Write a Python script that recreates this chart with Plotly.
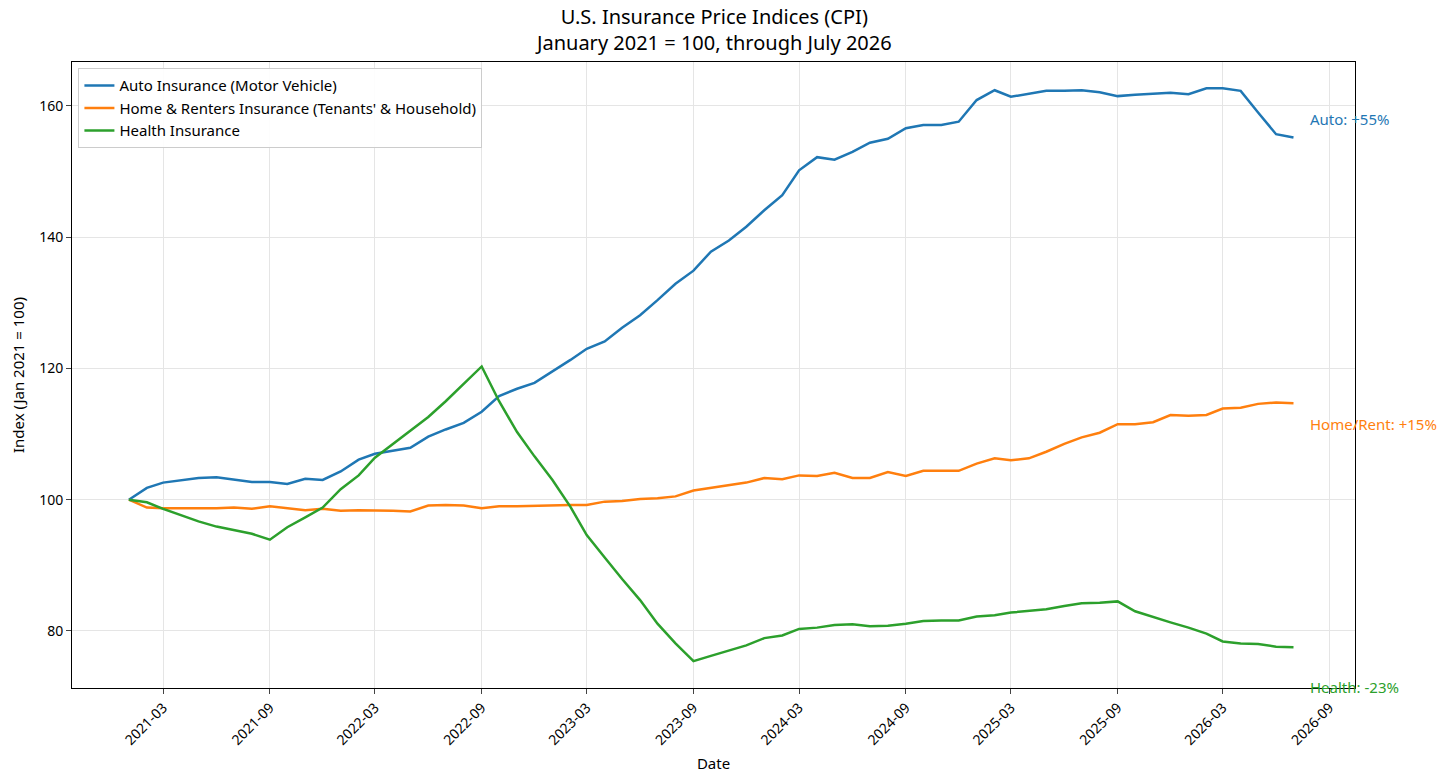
import pandas as pd
import plotly.graph_objects as go

dates = pd.date_range("2021-01-01", periods=67, freq="MS")
auto = [100,101.8,102.6,103,103.3,103.4,103,102.7,102.7,102.4,103.2,103.0,104.3,106.1,107,107.5,107.9,109.6,110.7,111.7,113.4,115.8,116.9,117.8,119.5,121.3,123,124.1,126.2,128.1,130.4,132.9,134.9,137.8,139.5,141.6,144.1,146.4,150.2,152.2,151.8,153,154.4,155,156.6,157.1,157.1,157.6,160.9,162.4,161.4,161.8,162.3,162.3,162.4,162.1,161.5,161.7,161.8,162,161.8,162.7,162.7,162.3,159,155.7,155.2]
home = [100,98.8,98.7,98.7,98.6,98.7,98.8,98.6,99.0,98.7,98.4,98.6,98.3,98.4,98.3,98.3,98.2,99.1,99.2,99.1,98.7,99.0,99.0,99.1,99.2,99.2,99.2,99.7,99.8,100.1,100.2,100.5,101.4,101.8,102.3,102.6,103.3,103.1,103.7,103.6,104.1,103.3,103.3,104.2,103.6,104.4,104.4,104.4,105.5,106.3,106.0,106.3,107.3,108.5,109.5,110.2,111.5,111.5,111.8,112.9,112.8,112.9,113.9,114.0,114.6,114.8,114.7]
health = [100,99.6,98.6,97.6,96.7,95.9,95.4,94.8,93.9,95.8,97.3,98.8,101.6,103.7,106.4,108.5,110.5,112.6,115.0,117.6,120.3,115.0,110.3,106.6,103.0,98.9,94.6,91.2,87.9,84.7,81.1,78.1,75.4,76.2,77.0,77.8,78.9,79.3,80.3,80.5,80.9,81.0,80.7,80.8,81.1,81.5,81.6,81.6,82.2,82.4,82.8,83.1,83.3,83.8,84.2,84.3,84.5,83.0,82.1,81.3,80.5,79.6,78.4,78.1,78.0,77.6,77.5]

names = ["Auto Insurance (Motor Vehicle)", "Home & Renters Insurance (Tenants' & Household)", "Health Insurance"]
colors = ["#1f77b4", "#ff7f0e", "#2ca02c"]
labels = ["Auto: +55%", "Home/Rent: +15%", "Health: -23%"]
label_y = [158, 111.5, 71.5]
tickvals = pd.date_range("2021-03-01", "2026-09-01", freq="6MS")
title = "U.S. Insurance Price Indices (CPI)<br>January 2021 = 100, through July 2026"

fig = go.Figure()
for n, c, s in zip(names, colors, [auto, home, health]):
    fig.add_trace(go.Scatter(x=dates, y=s, name=n, mode="lines", line=dict(color=c, width=2.5)))
for t, c, y in zip(labels, colors, label_y):
    fig.add_annotation(x=pd.Timestamp("2026-07-26"), y=y, text=t, showarrow=False, xanchor="left",
                       font=dict(color=c, size=15))
fig.add_annotation(x=0.5, y=1, xref="paper", yref="paper", yanchor="bottom", yshift=4, text=title,
                   showarrow=False, font=dict(size=20))

fig.update_layout(
    width=1456, height=783, paper_bgcolor="white", plot_bgcolor="white",
    font=dict(family="Noto Sans", size=14, color="black"),
    margin=dict(l=64, r=109, t=54, b=103),
    legend=dict(x=0.005, y=0.99, xanchor="left", yanchor="top", bordercolor="#ccc", borderwidth=1,
                bgcolor="rgba(255,255,255,0.9)", font=dict(size=15)),
    showlegend=True,
)
fig.update_xaxes(range=[pd.Timestamp("2020-09-25"), pd.Timestamp("2026-10-15")], automargin=False,
                 tickvals=tickvals, ticktext=[d.strftime("%Y-%m") for d in tickvals], tickangle=-45,
                 showgrid=True, gridcolor="#e5e5e5", showline=True, linecolor="black", mirror=True,
                 ticks="outside", title=dict(text="Date", font=dict(size=15), standoff=10))
fig.update_yaxes(range=[71.3, 166.7], tickvals=[80,100,120,140,160], showgrid=True, gridcolor="#e5e5e5",
                 showline=True, linecolor="black", mirror=True, ticks="outside", zeroline=False, automargin=False,
                 title=dict(text="Index (Jan 2021 = 100)", font=dict(size=15)))
fig.write_html("out.html")
